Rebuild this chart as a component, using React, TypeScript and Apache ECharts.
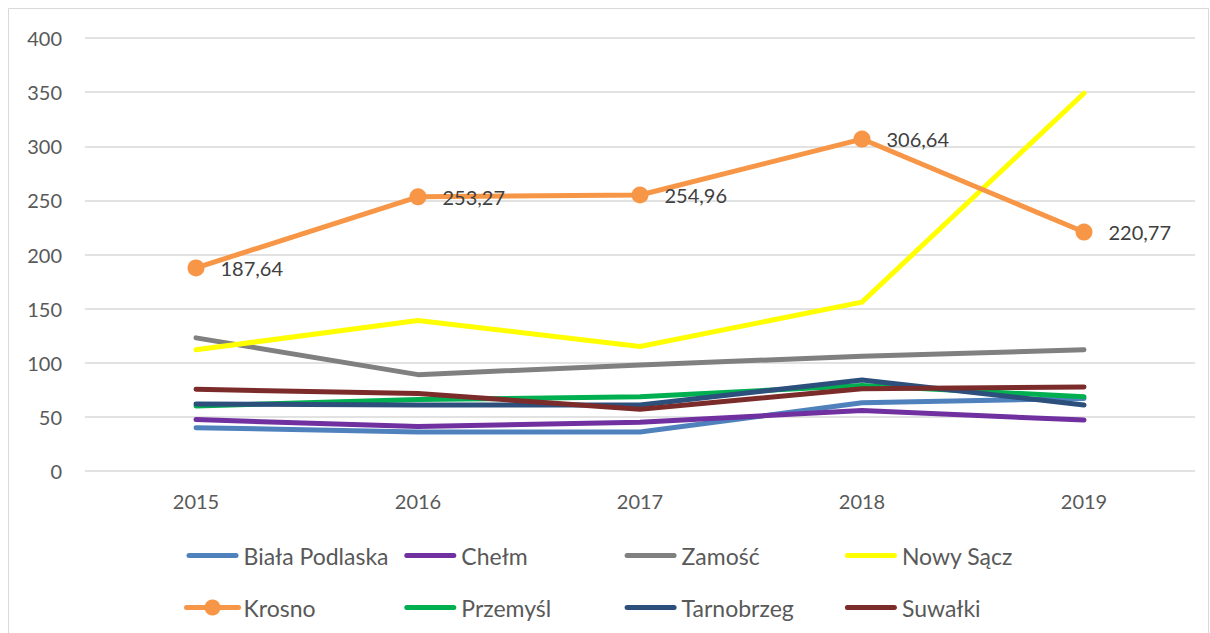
import React, { useEffect, useRef } from "react";
import * as echarts from "echarts";

const years = ["2015", "2016", "2017", "2018", "2019"];
const seriesNames = [
  "Biała Podlaska",
  "Chełm",
  "Zamość",
  "Nowy Sącz",
  "Krosno",
  "Przemyśl",
  "Tarnobrzeg",
  "Suwałki",
];
const bialaPodlaska = [40, 36, 36, 63, 67];
const chelm = [47.5, 41, 45, 56, 47];
const zamosc = [123, 89, 98, 106, 112];
const nowySacz = [112, 139, 115, 156, 349];
const krosno = [187.64, 253.27, 254.96, 306.64, 220.77];
const przemysl = [60, 66, 68.5, 79, 68.5];
const tarnobrzeg = [62, 61, 61, 84, 61];
const suwalki = [75.5, 71.5, 57, 76, 77.5];
const yTicks = { min: 0, max: 400, interval: 50 };

const colors = [
  "#4F81BD",
  "#7030A0",
  "#808080",
  "#FFFF00",
  "#F79646",
  "#00B050",
  "#2C4F7C",
  "#7B2C2A",
];

const FONT = "Lato, 'Open Sans', sans-serif";
const LINE_ICON =
  "path://M2.5,0 L49.5,0 A2.5,2.5 0 0 1 49.5,5 L2.5,5 A2.5,2.5 0 0 1 2.5,0 Z";

export default function App() {
  const ref = useRef<HTMLDivElement>(null);
  useEffect(() => {
    if (!ref.current) return;
    const chart = echarts.init(ref.current, undefined, { renderer: "svg" });
    const values = [bialaPodlaska, chelm, zamosc, nowySacz, krosno, przemysl, tarnobrzeg, suwalki];
    const series = values.map((data, i) => {
      const isKrosno = seriesNames[i] === "Krosno";
      return {
        name: seriesNames[i],
        type: "line",
        data,
        symbol: isKrosno ? "circle" : "none",
        symbolSize: isKrosno ? 17 : 0,
        showSymbol: isKrosno,
        lineStyle: { width: 5, color: colors[i], cap: "round", join: "round" },
        itemStyle: { color: colors[i] },
        z: 2 + i,
        label: isKrosno
          ? {
              show: true,
              position: "right",
              distance: 16,
              color: "#404040",
              fontSize: 20,
              fontFamily: FONT,
              formatter: (p: any) => Number(p.value).toFixed(2).replace(".", ","),
            }
          : { show: false },
        emphasis: { disabled: true },
      };
    });
    const legendItems = (names: string[]) =>
      names.map((n) => (n === "Krosno" ? { name: n } : { name: n, icon: LINE_ICON }));
    const columns = [0, 1, 2, 3].map((c) => [seriesNames[c], seriesNames[c + 4]]);
    const legends = columns.map((names, c) => ({
      orient: "vertical",
      left: 179 + 220.3 * c,
      top: 539,
      itemWidth: 52,
      itemHeight: 20,
      itemGap: 29,
      symbolKeepAspect: true,
      lineStyle: { width: 5, cap: "round" },
      textStyle: { color: "#595959", fontSize: 23, fontFamily: FONT },
      selectedMode: false,
      data: legendItems(names),
    }));
    chart.setOption({
      animation: false,
      color: colors,
      textStyle: { fontFamily: FONT },
      grid: { left: 85, right: 15, top: 38, bottom: 162 },
      graphic: [
        {
          type: "rect",
          shape: { x: 8.5, y: 8.5, width: 1200, height: 640 },
          style: { fill: "none", stroke: "#D9D9D9", lineWidth: 1 },
          silent: true,
        },
      ],
      xAxis: {
        type: "category",
        data: years,
        boundaryGap: true,
        axisLine: { show: false },
        axisTick: { show: false },
        axisLabel: { color: "#595959", fontSize: 20, fontFamily: FONT, margin: 20 },
      },
      yAxis: {
        type: "value",
        min: yTicks.min,
        max: yTicks.max,
        interval: yTicks.interval,
        axisLine: { show: false },
        axisTick: { show: false },
        axisLabel: { color: "#595959", fontSize: 20, fontFamily: FONT, margin: 23 },
        splitLine: { lineStyle: { color: "#D9D9D9", width: 1.5 } },
      },
      legend: legends,
      series,
    });
    return () => chart.dispose();
  }, []);
  return (
    <div
      ref={ref}
      style={{ position: "fixed", left: 0, top: 0, width: 1210, height: 633, background: "#fff" }}
    />
  );
}
